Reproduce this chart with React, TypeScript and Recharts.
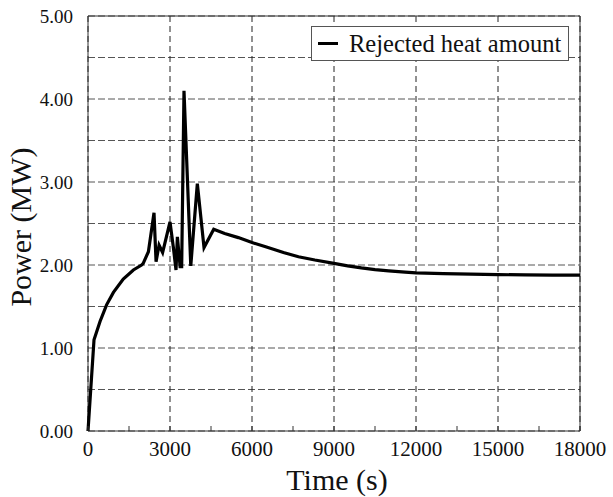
import React from "react";
import {
  LineChart, Line, XAxis, YAxis, CartesianGrid, Legend, Label, ReferenceArea,
} from "recharts";

// time (s) and rejected heat (MW)
const times = [
  0, 220, 440, 680, 930, 1290, 1660, 1960, 2020, 2210,
  2415, 2490, 2600, 2730, 3000, 3120, 3220, 3270, 3370, 3427,
  3512, 3760, 4000, 4245, 4600, 5000, 5500, 6000, 6500, 7150,
  7700, 8300, 9000, 9500, 10000, 10500, 11000, 11600, 12000, 13000,
  14000, 15000, 16000, 17000, 18000,
];
const heat = [
  0, 1.10, 1.32, 1.52, 1.67, 1.83, 1.94, 2.0, 2.02, 2.16,
  2.63, 2.04, 2.24, 2.15, 2.52, 2.22, 1.94, 2.34, 1.98, 1.98,
  4.10, 1.99, 2.98, 2.21, 2.43, 2.38, 2.33, 2.27, 2.22, 2.15,
  2.10, 2.06, 2.02, 1.99, 1.965, 1.945, 1.93, 1.915, 1.905, 1.895,
  1.89, 1.885, 1.88, 1.878, 1.877,
];
const xTicks = [0, 1500, 3000, 4500, 6000, 7500, 9000, 10500, 12000, 13500, 15000, 16500, 18000];
const xMajor = [0, 3000, 6000, 9000, 12000, 15000, 18000];
const yTicks = [0, 0.5, 1, 1.5, 2, 2.5, 3, 3.5, 4, 4.5, 5];

const data = times.map((t, i) => ({ t, heat: heat[i] }));

const SERIF = '"Liberation Serif", "Times New Roman", serif';

function XTick({ x, y, payload }: any) {
  const major = payload.value % 3000 === 0;
  return (
    <g>
      <line x1={x} x2={x} y1={y} y2={y - 5} stroke="#333" />
      {major && (
        <text x={x} y={y + 25} textAnchor="middle" fontFamily={SERIF} fontSize={21} fill="#111">
          {payload.value}
        </text>
      )}
    </g>
  );
}

function YTick({ y, payload }: any) {
  if (payload.value % 1 !== 0) return null;
  return (
    <text x={73} y={y} dy="0.35em" textAnchor="end" fontFamily={SERIF} fontSize={19} fill="#111">
      {Number(payload.value).toFixed(2)}
    </text>
  );
}

function XTitle({ viewBox }: any) {
  return (
    <text x={viewBox.x + viewBox.width / 2 + 3} y={490} textAnchor="middle" fontFamily={SERIF} fontSize={30} fill="#111">
      Time (s)
    </text>
  );
}

function YTitle() {
  return (
    <text x={31} y={227} transform="rotate(-90, 31, 227)" textAnchor="middle" fontFamily={SERIF} fontSize={30} fill="#111">
      Power (MW)
    </text>
  );
}

function LegendBox() {
  return (
    <div style={{
      boxSizing: "border-box", width: 258, height: 35, border: "1px solid #555",
      background: "#fff", display: "flex", alignItems: "center", paddingLeft: 6,
    }}>
      <span style={{ width: 20, height: 3, background: "#000", display: "inline-block" }} />
      <span style={{ marginLeft: 11, fontFamily: SERIF, fontSize: 24.5, color: "#111", lineHeight: "24px" }}>
        Rejected heat amount
      </span>
    </div>
  );
}

export default function App() {
  return (
    <div style={{ position: "absolute", left: 0, top: 0, width: 613, height: 497, background: "#fff" }}>
      <LineChart width={613} height={497} data={data} margin={{ top: 16, right: 33, left: 0, bottom: 0 }}>
        <CartesianGrid stroke="#555" strokeDasharray="7 3" vertical={false} horizontalValues={yTicks} />
        <CartesianGrid stroke="#222" strokeDasharray="6 4" horizontal={false} verticalValues={xMajor} />
        <XAxis
          type="number" dataKey="t" domain={[0, 18000]} ticks={xTicks} interval={0}
          height={66} tickSize={0} tickMargin={0} tickLine={false} axisLine={false} tick={<XTick />}
        >
          <Label content={<XTitle />} />
        </XAxis>
        <YAxis
          type="number" domain={[0, 5]} ticks={yTicks} interval={0}
          width={88} tickSize={0} tickMargin={0} tickLine={false} axisLine={false} tick={<YTick />}
        >
          <Label content={<YTitle />} />
        </YAxis>
        <ReferenceArea x1={0} x2={18000} y1={0} y2={5} fill="none" stroke="#333" strokeWidth={1} ifOverflow="visible" />
        <Line
          type="linear" dataKey="heat" name="Rejected heat amount" stroke="#000" strokeWidth={3.2}
          dot={false} activeDot={false} isAnimationActive={false}
        />
        <Legend
          layout="horizontal" verticalAlign="middle" align="center" content={<LegendBox />}
          wrapperStyle={{ top: 26, left: 311, width: 258, height: 35 }}
        />
      </LineChart>
    </div>
  );
}
